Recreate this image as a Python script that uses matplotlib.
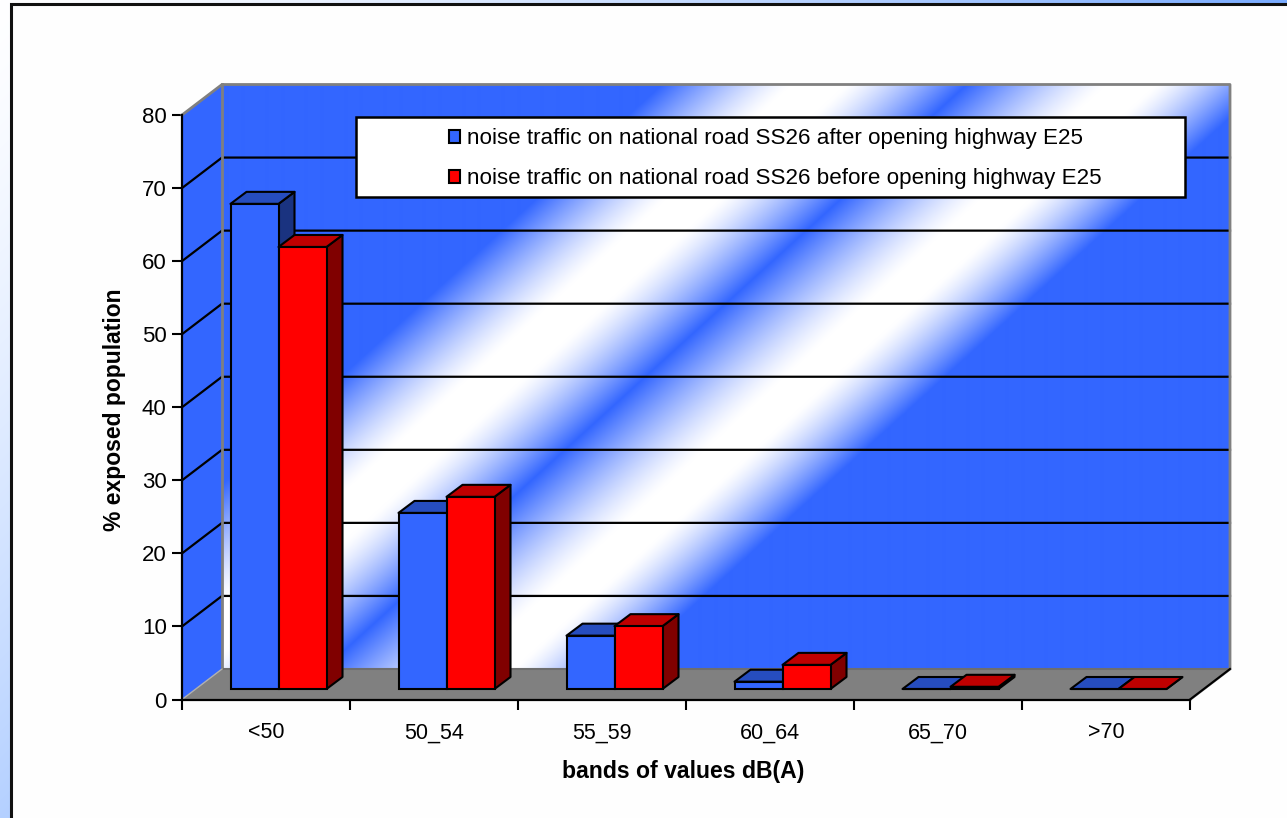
import numpy as np
import matplotlib
matplotlib.use('Agg')
import matplotlib.pyplot as plt
from matplotlib.patches import Polygon, Rectangle, Patch

categories = ['<50', '50_54', '55_59', '60_64', '65_70', '>70']
after_values = [66.4, 24.1, 7.3, 1.0, 0.0, 0.0]
before_values = [60.5, 26.3, 8.6, 3.3, 0.3, 0.0]
after_label = 'noise traffic on national road SS26 after opening highway E25'
before_label = 'noise traffic on national road SS26 before opening highway E25'
yticks = [0, 10, 20, 30, 40, 50, 60, 70, 80]

plt.rcParams['font.family'] = ['Liberation Sans', 'DejaVu Sans']

W, H = 1287, 818
LEFT, RIGHT, BOTTOM, TOP = 182, 1190, 699.5, 115
PX_X = (RIGHT - LEFT) / 6
PX_Y = (BOTTOM - TOP) / 80

# depth of the fake 3d box and of the bars, in data units
WALL_DX, WALL_DY = 40 / PX_X, 30.5 / PX_Y
BAR_DX, BAR_DY = 16 / PX_X, 12 / PX_Y
BAR_W = 48 / PX_X
BAR_X0 = 48.5 / PX_X
BAR_BASE = 10.5 / PX_Y

BLUE = ('#3366ff', '#264dbf', '#1a3380')
RED = ('#ff0000', '#bf0000', '#800000')
GREY = '#808080'

fig = plt.figure(figsize=(W / 100, H / 100), dpi=100)

# slide background behind the chart panel
bg = fig.add_axes([0, 0, 1, 1], zorder=0)
yy, xx = np.mgrid[0:H, 0:W]
t = np.clip((xx + 1.0 * yy) / 1500, 0, 1)[..., None] ** 1.3
c0, c1 = np.array([1, 1, 1.0]), np.array([0.36, 0.6, 1.0])
bg.imshow(c0 + (c1 - c0) * t, extent=[0, W, H, 0], aspect='auto')
bg.add_patch(Rectangle((10.5, 3.5), W + 20, H + 20, fc='#fefefe', ec='#111111', lw=2.2))
bg.set_xlim(0, W)
bg.set_ylim(H, 0)
bg.axis('off')

ax = fig.add_axes([LEFT / W, 1 - BOTTOM / H, (RIGHT - LEFT) / W, (BOTTOM - TOP) / H], zorder=1)
ax.patch.set_alpha(0)

# back wall with the diagonal white stripes
wall_ext = [WALL_DX, 6 + WALL_DX, WALL_DY, 80 + WALL_DY]
gx = np.linspace(wall_ext[0], wall_ext[1], 1010)
gy = np.linspace(wall_ext[3], wall_ext[2], 585)
mx, my = np.meshgrid(gx, gy)
c = (LEFT + mx * PX_X) + 1.1 * (BOTTOM - my * PX_Y)
s = np.interp(c, [755, 885, 940, 1060, 1200, 1250, 1360], [0, 1, 1, 0, 1, 1, 0])
s = (1 - (1 - s) ** 1.3)[..., None]
blue_rgb = np.array([0x33, 0x66, 0xff]) / 255
ax.imshow(blue_rgb + (1 - blue_rgb) * s, extent=wall_ext, aspect='auto', zorder=1,
          interpolation='bilinear', clip_on=False)

# side wall and floor
ax.add_patch(Polygon([(0, 0), (WALL_DX, WALL_DY), (WALL_DX, 80 + WALL_DY), (0, 80)],
                     fc=BLUE[0], ec='none', zorder=1, clip_on=False))
ax.add_patch(Polygon([(0, 0), (6, 0), (6 + WALL_DX, WALL_DY), (WALL_DX, WALL_DY)],
                     fc=GREY, ec='none', zorder=1, clip_on=False))

# grid lines run along the side wall and then the back wall
for v in yticks[1:-1]:
    ax.plot([0, WALL_DX, 6 + WALL_DX], [v, v + WALL_DY, v + WALL_DY],
            color='black', lw=1.6, zorder=2, clip_on=False)

# grey box edges
ax.plot([0, WALL_DX, 6 + WALL_DX, 6 + WALL_DX, 6], [80, 80 + WALL_DY, 80 + WALL_DY, WALL_DY, 0],
        color=GREY, lw=2, zorder=2, clip_on=False)
ax.plot([WALL_DX, WALL_DX], [WALL_DY, 80 + WALL_DY], color=GREY, lw=2, zorder=2, clip_on=False)
ax.plot([WALL_DX, 6 + WALL_DX], [WALL_DY, WALL_DY], color='#6e6e6e', lw=1.5, zorder=2, clip_on=False)
ax.plot([0, WALL_DX], [0, WALL_DY], color='#b0b0b0', lw=1, zorder=2, clip_on=False)
ax.plot([6, 6 + WALL_DX], [0, WALL_DY], color='black', lw=1.5, zorder=2, clip_on=False)


def draw_bar(x, val, cols, z):
    top = BAR_BASE + val
    ax.add_patch(Polygon([(x + BAR_W, BAR_BASE), (x + BAR_W + BAR_DX, BAR_BASE + BAR_DY),
                          (x + BAR_W + BAR_DX, top + BAR_DY), (x + BAR_W, top)],
                         fc=cols[2], ec='black', lw=1.5, zorder=z, joinstyle='round'))
    ax.add_patch(Polygon([(x, top), (x + BAR_DX, top + BAR_DY),
                          (x + BAR_W + BAR_DX, top + BAR_DY), (x + BAR_W, top)],
                         fc=cols[1], ec='black', lw=1.5, zorder=z, joinstyle='round'))
    ax.bar(x, val, BAR_W, bottom=BAR_BASE, align='edge', color=cols[0],
           edgecolor='black', lw=1.5, zorder=z)


for i, (a, b) in enumerate(zip(after_values, before_values)):
    draw_bar(i + BAR_X0, a, BLUE, 3 + i * 0.1)
    draw_bar(i + BAR_X0 + BAR_W, b, RED, 3.05 + i * 0.1)

# legend box
box_x0, box_x1 = (356 - LEFT) / PX_X, (1185 - LEFT) / PX_X
box_y0, box_y1 = (BOTTOM - 197) / PX_Y, (BOTTOM - 117) / PX_Y
ax.add_patch(Rectangle((box_x0, box_y0), box_x1 - box_x0, box_y1 - box_y0,
                       fc='white', ec='black', lw=1.8, zorder=5, clip_on=False))
handles = [Patch(fc=BLUE[0], ec='black', lw=1.5, label=after_label),
           Patch(fc=RED[0], ec='black', lw=1.5, label=before_label)]
leg = ax.legend(handles=handles, loc='center', frameon=False, fontsize=16.1,
                bbox_to_anchor=((box_x0 + box_x1) / 2 + 4.5 / PX_X, (box_y0 + box_y1) / 2 - 1.5 / PX_Y),
                bbox_transform=ax.transData, handlelength=0.52, handleheight=0.52,
                handletextpad=0.3, labelspacing=0.85)
leg.set_zorder(6)

ax.set_xlim(0, 6)
ax.set_ylim(0, 80)
ax.set_xticks(range(7))
ax.set_xticklabels([])
ax.set_xticks(np.arange(6) + 0.5, categories, minor=True)
ax.tick_params(axis='x', which='major', length=7, width=1.5)
ax.tick_params(axis='x', which='minor', length=0, pad=16.5, labelsize=15.5)
ax.set_yticks(yticks)
ax.tick_params(axis='y', length=7, width=1.5, labelsize=16, pad=4)
ax.set_xlabel('bands of values dB(A)', fontweight='bold', fontsize=16.6, labelpad=12, x=0.4975)
ax.set_ylabel('% exposed population', fontweight='bold', fontsize=16.5, labelpad=11.5, y=0.495)
for side in ('top', 'right'):
    ax.spines[side].set_visible(False)
for side in ('left', 'bottom'):
    ax.spines[side].set_linewidth(1.6)
    ax.spines[side].set_zorder(2.5)

fig.savefig('out.png', dpi=100)
